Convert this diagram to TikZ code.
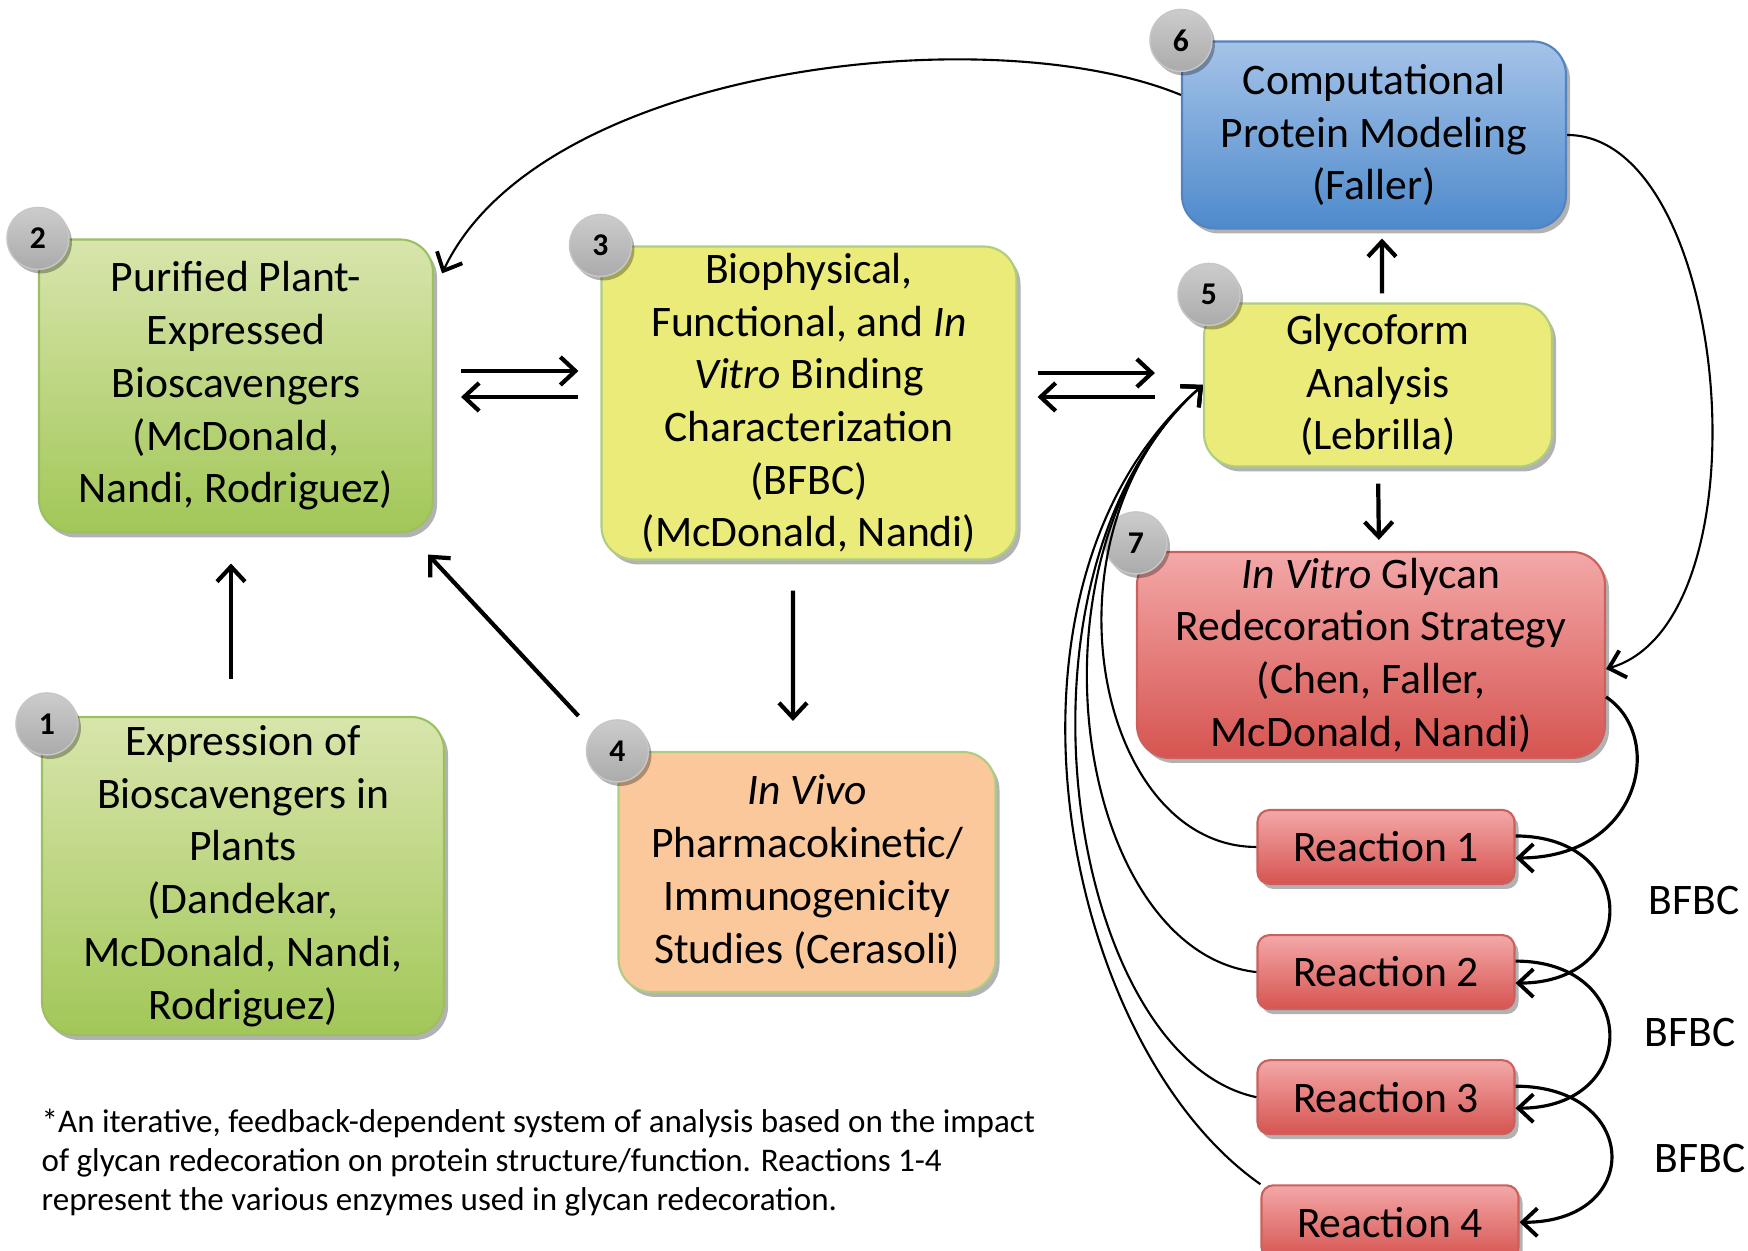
\documentclass[tikz,border=0pt]{standalone}
\usepackage{fontspec}
\setmainfont{Carlito}
\usepackage{tikz}
\usetikzlibrary{arrows.meta,positioning,shadows}
\definecolor{greentop}{RGB}{216,229,172}
\definecolor{greenbot}{RGB}{162,199,88}
\definecolor{greenline}{RGB}{155,192,98}
\definecolor{yellowfill}{RGB}{235,235,122}
\definecolor{orangefill}{RGB}{250,200,155}
\definecolor{bluetop}{RGB}{165,195,232}
\definecolor{bluebot}{RGB}{78,138,204}
\definecolor{blueline}{RGB}{84,132,192}
\definecolor{redtop}{RGB}{243,168,168}
\definecolor{redbot}{RGB}{214,84,80}
\definecolor{redline}{RGB}{204,96,92}

\begin{document}
\begin{tikzpicture}[
  every node/.style={font=\fontsize{12.4}{15}\selectfont, align=center},
  box/.style={rounded corners=0.33cm, inner sep=0pt, line width=0.6pt,
    drop shadow={shadow xshift=0.04cm, shadow yshift=-0.05cm, fill=black, opacity=0.3}},
  greenBox/.style={box, draw=greenline, top color=greentop, bottom color=greenbot},
  yellowBox/.style={box, draw=greenline!80, fill=yellowfill},
  orangeBox/.style={box, draw=greenline!80, fill=orangefill},
  blueBox/.style={box, draw=blueline, top color=bluetop, bottom color=bluebot},
  redBox/.style={box, draw=redline, top color=redtop, bottom color=redbot},
  reactBox/.style={redBox, rounded corners=0.12cm, minimum width=2.57cm, minimum height=0.74cm},
  badge/.style={circle, minimum size=0.62cm, inner sep=0pt, draw=black!22, top color=black!20, bottom color=black!33,
    font=\bfseries\fontsize{9}{10}\selectfont,
    drop shadow={shadow xshift=0.03cm, shadow yshift=-0.04cm, fill=black, opacity=0.3}},
  arr/.style={-{Straight Barb[length=1.5mm,width=2.8mm,line width=1.2pt]}, line width=1.2pt},
  midArr/.style={-{Straight Barb[length=1.5mm,width=2.8mm,line width=1.1pt]}, line width=0.9pt},
  thinArr/.style={-{Straight Barb[length=1.5mm,width=2.8mm,line width=1.1pt]}, line width=0.6pt},
  note/.style={font=\fontsize{9.4}{11.1}\selectfont, align=left, inner sep=0pt}
]
\useasboundingbox (0,0) rectangle (17.48,12.51);

% boxes
\node[greenBox, minimum width=4.02cm, minimum height=3.18cm] (expr) at (2.43,3.75)
  {Expression of\\Bioscavengers in\\Plants\\(Dandekar,\\McDonald, Nandi,\\Rodriguez)};
\node[greenBox, minimum width=3.94cm, minimum height=2.93cm] (purif) at (2.36,8.65)
  {Purified Plant-\\Expressed\\Bioscavengers\\(McDonald,\\Nandi, Rodriguez)};
\node[yellowBox, minimum width=4.15cm, minimum height=3.13cm] (bfbc) at (8.09,8.48)
  {Biophysical,\\Functional, and \textit{In}\\\textit{Vitro} Binding\\Characterization\\(BFBC)\\(McDonald, Nandi)};
\node[orangeBox, minimum width=3.77cm, minimum height=2.40cm] (invivo) at (8.07,3.79)
  {\textit{In Vivo}\\Pharmacokinetic/\\Immunogenicity\\Studies (Cerasoli)};
\node[yellowBox, minimum width=3.48cm, minimum height=1.63cm] (glyco) at (13.78,8.66)
  {Glycoform\\Analysis\\(Lebrilla)};
\node[blueBox, minimum width=3.84cm, minimum height=1.87cm] (model) at (13.74,11.16)
  {Computational\\Protein Modeling\\(Faller)};
\node[redBox, minimum width=4.68cm, minimum height=2.06cm] (redeco) at (13.71,5.96)
  {\textit{In Vitro} Glycan\\Redecoration Strategy\\(Chen, Faller,\\McDonald, Nandi)};

% reactions
\node[reactBox] (react1) at (13.86,4.04) {Reaction 1};
\node[reactBox, below=0.49cm of react1] (react2) {Reaction 2};
\node[reactBox, below=0.49cm of react2] (react3) {Reaction 3};
\node[reactBox, below=0.49cm of react3, xshift=0.04cm] (react4) {Reaction 4};

% numbers
\node[badge] (n1) at ([xshift=0.06cm,yshift=-0.08cm]expr.north west) {1};
\node[badge] (n2) at (purif.north west) {2};
\node[badge] (n3) at (bfbc.north west) {3};
\node[badge] (n4) at (invivo.north west) {4};
\node[badge] (n5) at ([xshift=0.06cm,yshift=0.08cm]glyco.north west) {5};
\node[badge] (n6) at (model.north west) {6};
\node[badge] (n7) at ([yshift=0.08cm]redeco.north west) {7};

\node (lab1) at (16.94,3.50) {BFBC};
\node (lab2) at (16.90,2.18) {BFBC};
\node (lab3) at (17.00,0.92) {BFBC};

\node[note, anchor=west] (foot) at (0.41,0.88)
  {*An iterative, feedback-dependent system of analysis based on the impact\\
   of glycan redecoration on protein structure/function. Reactions 1-4\\
   represent the various enzymes used in glycan redecoration.};

% straight arrows
\draw[arr, shorten <=0.37cm, shorten >=0.30cm] ([xshift=-0.12cm]expr.north) -- ([xshift=-0.05cm]purif.south);
\draw[arr, shorten <=0.27cm, shorten >=0.22cm] ([yshift=0.15cm]purif.east) -- ([yshift=0.15cm]purif.east -| bfbc.west);
\draw[arr, shorten <=0.22cm, shorten >=0.27cm] ([yshift=-0.11cm]purif.east -| bfbc.west) -- ([yshift=-0.11cm]purif.east);
\draw[arr, shorten <=0.20cm, shorten >=0.48cm] ([yshift=0.30cm]bfbc.east) -- ([yshift=0.30cm]bfbc.east -| glyco.west);
\draw[arr, shorten <=0.48cm, shorten >=0.20cm] ([yshift=0.06cm]bfbc.east -| glyco.west) -- ([yshift=0.06cm]bfbc.east);
\draw[arr, shorten <=0.30cm, shorten >=0.30cm] ([xshift=-0.16cm]bfbc.south) -- ([xshift=-0.14cm]invivo.north);
\draw[arr] ([xshift=-0.39cm,yshift=0.35cm]invivo.north west) -- ([xshift=-0.06cm,yshift=-0.21cm]purif.south east);
\draw[arr, shorten <=0.09cm, shorten >=0.09cm] ([xshift=0.04cm]glyco.north) -- ([xshift=0.08cm]model.south);
\draw[arr, shorten <=0.16cm, shorten >=0.11cm] (glyco.south) -- ([xshift=0.08cm]redeco.north);

% feedback curves
\draw[thinArr] ([yshift=0.40cm]model.west) .. controls (9.9,12.35) and (5.4,11.85) .. ([xshift=0.08cm,yshift=-0.35cm]purif.north east);
\draw[thinArr] (model.east) .. controls +(1.64,0) and +(1.65,0.48) .. ([yshift=-0.14cm]redeco.east);
\draw[midArr] ([yshift=-0.42cm]redeco.east) .. controls +(0.6,-0.4) and +(1.25,0) .. ([yshift=-0.11cm]react1.east);
\draw[midArr] ([yshift=0.11cm]react1.east) .. controls +(1.25,0) and +(1.25,0) .. ([yshift=-0.11cm]react2.east);
\draw[midArr] ([yshift=0.11cm]react2.east) .. controls +(1.25,0) and +(1.25,0) .. ([yshift=-0.11cm]react3.east);
\draw[midArr] ([yshift=0.11cm]react3.east) .. controls +(1.25,0) and +(1.25,0) .. (react4.east);
\draw[thinArr] (react1.west) .. controls +(-1.6,0) and +(-1.7,-1.5) .. (glyco.west);
\draw[thinArr] (react2.west) .. controls +(-1.8,0.2) and +(-1.9,-1.7) .. (glyco.west);
\draw[thinArr] (react3.west) .. controls +(-1.9,0.4) and +(-2.1,-1.85) .. (glyco.west);
\draw[thinArr] (react4.north west) .. controls +(-2.0,1.4) and +(-2.3,-2.0) .. (glyco.west);
\end{tikzpicture}
\end{document}
